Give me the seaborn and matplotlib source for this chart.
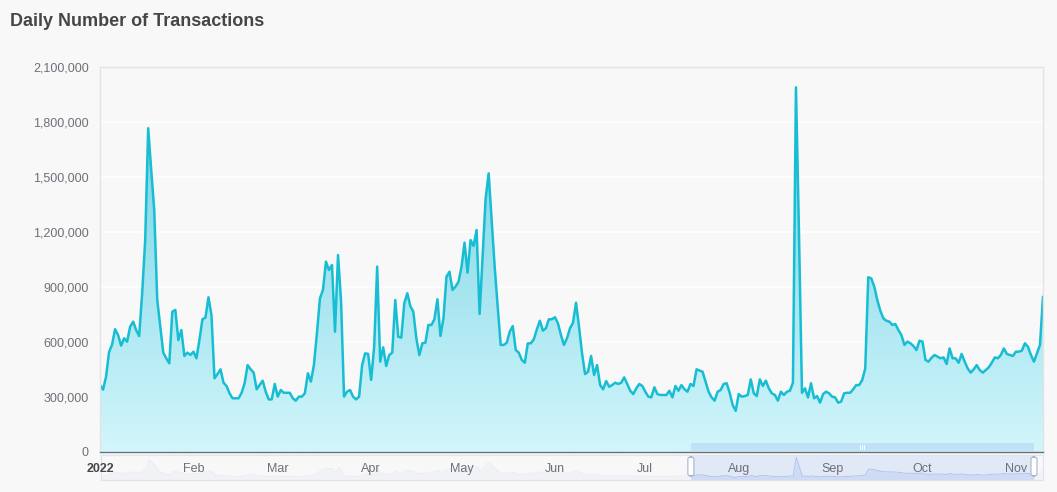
import numpy as np
import pandas as pd
import matplotlib
matplotlib.use("Agg")
import matplotlib.pyplot as plt
import matplotlib.dates as mdates
import seaborn as sns
from matplotlib.colors import LinearSegmentedColormap
from matplotlib.patches import FancyBboxPatch, Rectangle
from matplotlib.lines import Line2D
from matplotlib.ticker import FuncFormatter

# ---------------- data ----------------
TITLE = "Daily Number of Transactions"
START_DATE = "2022-01-01"
transactions = [
    365000, 340000, 410000, 545000, 585000, 670000, 638000, 580000, 620000, 602000,
    683000, 711000, 665000, 633000, 867000, 1156000, 1766000, 1538000, 1320000, 829000,
    683000, 542000, 511000, 484000, 765000, 775000, 611000, 665000, 524000, 542000,
    529000, 547000, 511000, 611000, 724000, 733000, 844000, 747000, 402000, 425000,
    451000, 378000, 360000, 320000, 293000, 293000, 293000, 323000, 375000, 474000,
    451000, 433000, 342000, 365000, 389000, 329000, 287000, 287000, 371000, 302000,
    338000, 323000, 323000, 323000, 293000, 280000, 302000, 302000, 320000, 429000,
    384000, 474000, 647000, 838000, 884000, 1038000, 993000, 1020000, 656000, 1074000,
    829000, 302000, 329000, 338000, 302000, 287000, 302000, 474000, 538000, 535000,
    393000, 574000, 1011000, 493000, 571000, 469000, 529000, 542000, 829000, 629000,
    624000, 811000, 866000, 796000, 765000, 620000, 529000, 593000, 596000, 693000,
    693000, 724000, 833000, 633000, 729000, 956000, 983000, 884000, 902000, 929000,
    1011000, 1142000, 978000, 1156000, 1124000, 1211000, 753000, 1065000, 1384000, 1520000,
    1265000, 1011000, 793000, 584000, 584000, 596000, 656000, 687000, 556000, 542000,
    502000, 487000, 593000, 593000, 615000, 669000, 716000, 662000, 675000, 724000,
    724000, 735000, 702000, 638000, 584000, 620000, 675000, 705000, 814000, 683000,
    538000, 425000, 438000, 524000, 420000, 474000, 365000, 342000, 387000, 356000,
    365000, 378000, 371000, 378000, 407000, 371000, 334000, 316000, 347000, 371000,
    360000, 329000, 302000, 298000, 353000, 316000, 311000, 311000, 311000, 334000,
    298000, 360000, 334000, 365000, 342000, 329000, 371000, 360000, 451000, 444000,
    438000, 384000, 329000, 298000, 280000, 329000, 338000, 371000, 375000, 323000,
    256000, 225000, 316000, 302000, 305000, 311000, 396000, 320000, 305000, 396000,
    360000, 389000, 347000, 320000, 311000, 280000, 329000, 311000, 329000, 334000,
    378000, 1989000, 1200000, 323000, 347000, 298000, 375000, 293000, 305000, 269000,
    316000, 329000, 320000, 302000, 298000, 269000, 275000, 320000, 323000, 323000,
    342000, 365000, 365000, 393000, 456000, 953000, 947000, 902000, 829000, 771000,
    729000, 716000, 711000, 693000, 698000, 665000, 638000, 584000, 602000, 593000,
    578000, 556000, 607000, 602000, 502000, 493000, 514000, 529000, 520000, 511000,
    516000, 480000, 565000, 511000, 511000, 487000, 535000, 493000, 456000, 433000,
    451000, 474000, 447000, 433000, 447000, 462000, 487000, 516000, 511000, 529000,
    565000, 535000, 529000, 524000, 547000, 547000, 553000, 593000, 574000, 529000,
    493000, 538000, 584000, 847000,
]
month_starts = ["2022-01-01", "2022-02-01", "2022-03-01", "2022-04-01", "2022-05-01",
                "2022-06-01", "2022-07-01", "2022-08-01", "2022-09-01", "2022-10-01",
                "2022-11-01"]
month_labels = ["2022", "Feb", "Mar", "Apr", "May", "Jun", "Jul", "Aug", "Sep", "Oct", "Nov"]
y_ticks = [0, 300000, 600000, 900000, 1200000, 1500000, 1800000, 2100000]
zoom_start, zoom_end = "2022-07-16", "2022-11-07"

dates = pd.date_range(START_DATE, periods=len(transactions), freq="D")
df = pd.DataFrame({"date": dates, "tx": transactions})

# ---------------- style ----------------
W, H = 1057, 492
BG = "#f8f8f8"
LINE = "#17bdd3"
AX_TXT = "#6e7079"

sns.set_theme(style="white")
plt.rcParams["font.family"] = ["Liberation Sans", "DejaVu Sans"]

fig = plt.figure(figsize=(W / 100, H / 100), dpi=100, facecolor=BG)

def fx(px):
    return px / W

def fy(py):
    return 1 - py / H

ax = fig.add_axes([fx(100), fy(452), fx(1043) - fx(100), fy(67) - fy(452)])
ax.set_facecolor(BG)
ax.set_zorder(3)

ax.set_ylim(0, 2100000)
ax.set_yticks(y_ticks)
ax.yaxis.grid(True, color="white", linewidth=1.2, zorder=0)
ax.set_axisbelow(True)

# gradient fill under the line
poly = ax.fill_between(df["date"], df["tx"], 0, facecolor="none", edgecolor="none", zorder=1)
cmap = LinearSegmentedColormap.from_list("g", ["#d2f6fb", "#6fd0e3"])
grad = np.linspace(0, 1, 256).reshape(-1, 1)
x0 = mdates.date2num(dates[0])
x1 = mdates.date2num(dates[-1])
im = ax.imshow(grad, aspect="auto", origin="lower", cmap=cmap,
               extent=[x0, x1, 0, max(transactions)], zorder=1)
im.set_clip_path(poly.get_paths()[0], transform=ax.transData)

sns.lineplot(data=df, x="date", y="tx", ax=ax, color=LINE, linewidth=1.8, zorder=2)

ax.set_xlim(dates[0], dates[-1])
ax.set_ylim(0, 2100000)
ax.set_aspect("auto")
ax.set_xlabel("")
ax.set_ylabel("")

ax.yaxis.set_major_formatter(FuncFormatter(lambda v, p: f"{int(v):,}"))
ax.tick_params(axis="y", length=0, pad=8, labelsize=9, labelcolor=AX_TXT)

ax.set_xticks(pd.to_datetime(month_starts))
ax.set_xticklabels(month_labels)
ax.tick_params(axis="x", length=5, width=1, color=AX_TXT, pad=3, labelsize=9,
               labelcolor=AX_TXT, direction="out")
ax.get_xticklabels()[0].set_fontweight("bold")
ax.get_xticklabels()[0].set_color("#464646")

for s in ["top", "right", "left"]:
    ax.spines[s].set_color("#e3e3e3")
    ax.spines[s].set_linewidth(1)
ax.spines["bottom"].set_color(AX_TXT)
ax.spines["bottom"].set_linewidth(1)

# ---------------- data-zoom slider ----------------
sl = fig.add_axes([fx(101), fy(480), fx(1043) - fx(101), fy(455) - fy(480)])
sl.set_zorder(1)
sl.set_facecolor("none")
sns.lineplot(data=df, x="date", y="tx", ax=sl, color="#e6eaf2", linewidth=0.5)
sl.fill_between(df["date"], df["tx"], 0, color="#dfe4ee", alpha=0.25, linewidth=0)
sel = df[(df["date"] >= zoom_start) & (df["date"] <= zoom_end)]
sns.lineplot(data=sel, x="date", y="tx", ax=sl, color="#a8c0f2", linewidth=0.6)
sl.fill_between(sel["date"], sel["tx"], 0, color="#8fb0f7", alpha=0.15, linewidth=0)
sl.axvspan(pd.Timestamp(zoom_start), pd.Timestamp(zoom_end), color="#87a9f0", alpha=0.2, linewidth=0)
sl.set_xlim(dates[0], dates[-1])
sl.set_ylim(0, max(transactions) * 1.1)
sl.set_xticks([])
sl.set_yticks([])
sl.set_xlabel("")
sl.set_ylabel("")
for s in sl.spines.values():
    s.set_color("#dde3ef")
    s.set_linewidth(0.8)

def date_px(d):
    frac = (mdates.date2num(pd.Timestamp(d)) - x0) / (x1 - x0)
    return 101 + frac * (1043 - 101)

sx0, sx1 = date_px(zoom_start), date_px(zoom_end)
fig.patches.append(Rectangle((fx(sx0), fy(451)), fx(sx1) - fx(sx0), fy(443) - fy(451),
                             transform=fig.transFigure, facecolor="#9db8f2", alpha=0.3,
                             edgecolor="none", zorder=5))
for gx in (-2, 0, 2):
    fig.lines.append(Line2D([fx((sx0 + sx1) / 2 + gx)] * 2, [fy(449), fy(445)],
                            transform=fig.transFigure, color="white", linewidth=0.7, zorder=6))
for hx in (sx0, sx1):
    fig.patches.append(FancyBboxPatch((fx(hx - 3), fy(476)), fx(6), fy(457) - fy(476),
                                      boxstyle="round,pad=0,rounding_size=0.004",
                                      transform=fig.transFigure, facecolor="white",
                                      edgecolor="#a9b4cc", linewidth=0.8, zorder=6))

fig.text(fx(10), fy(21), TITLE, fontsize=13, fontweight="bold", color="#464646",
         ha="left", va="center")

fig.savefig("out.png", dpi=100, facecolor=BG)
